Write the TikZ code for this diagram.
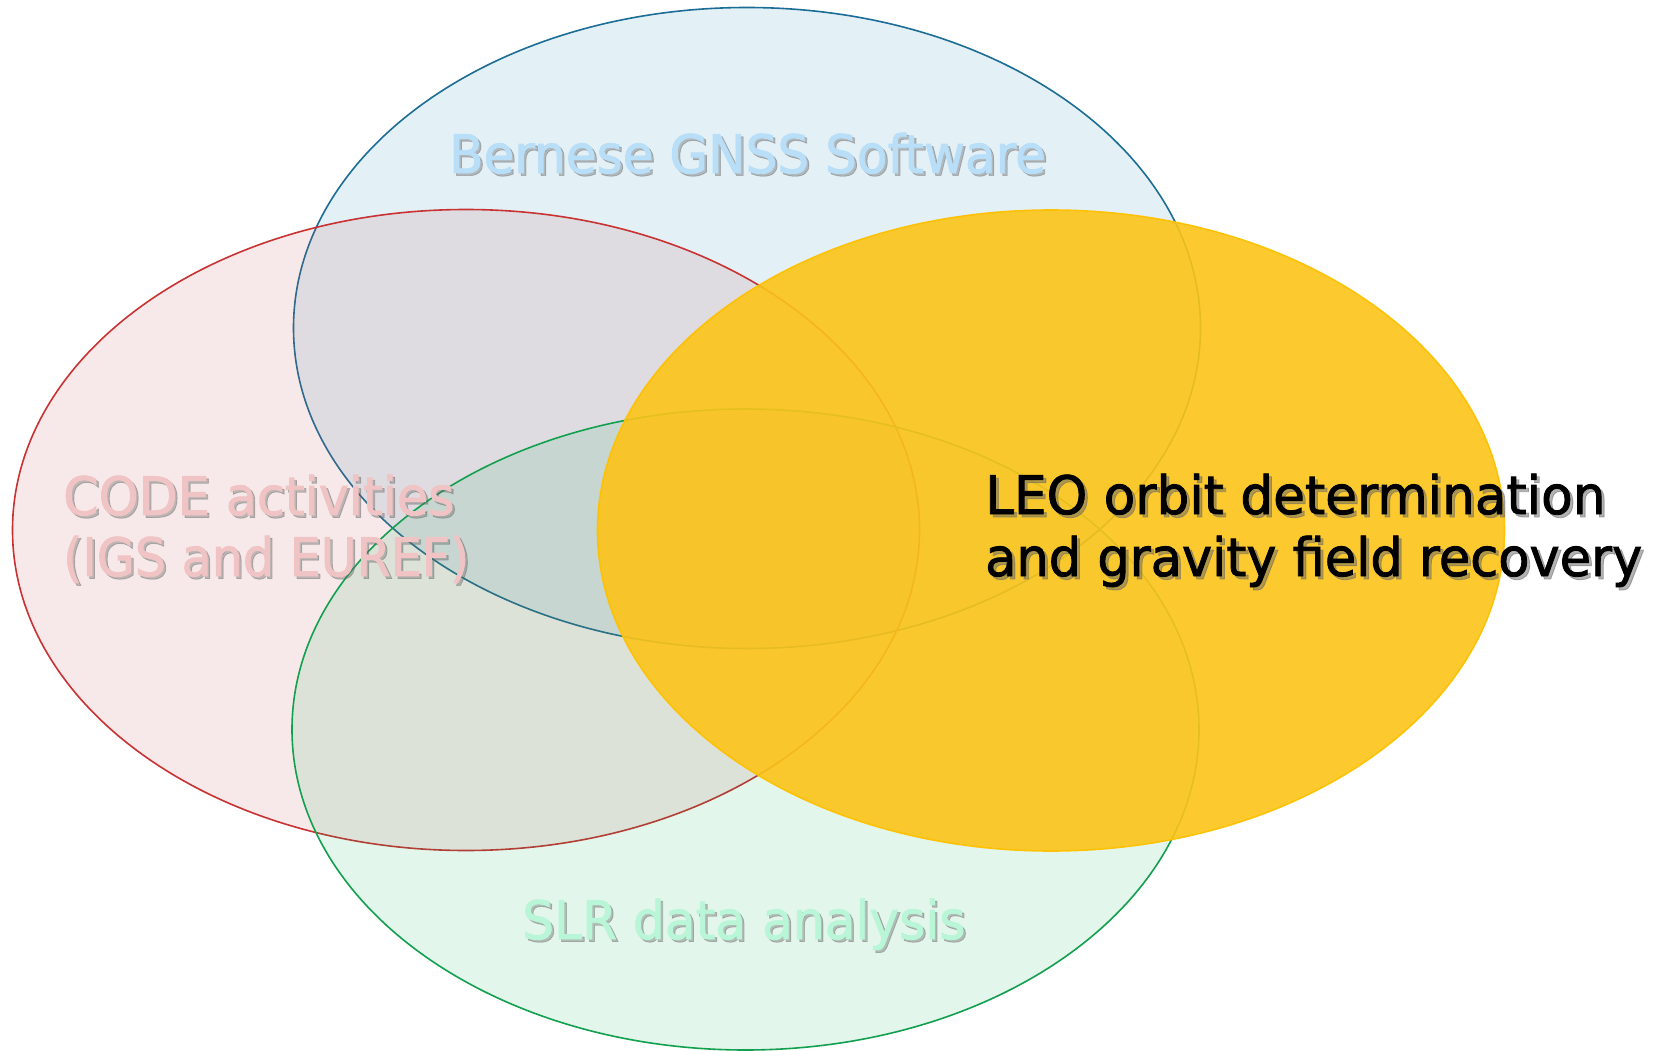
\documentclass[tikz,border=0pt]{standalone}
\usepackage{graphicx}
\usepackage{fontspec}
\newfontfamily\lblfont[FakeStretch=0.97,FakeBold=1.6]{DejaVu Sans}
\newcommand\hsc[2]{\scalebox{#1}[1]{#2}}
\definecolor{bstroke}{HTML}{1B6D96}
\definecolor{bfill}{RGB}{60,150,190}
\definecolor{rstroke}{HTML}{C83232}
\definecolor{rfill}{RGB}{192,80,77}
\definecolor{gstroke}{HTML}{12A04F}
\definecolor{gfill}{RGB}{0,170,80}
\definecolor{ostroke}{HTML}{FFC000}
\definecolor{ofill}{RGB}{252,196,24}
\definecolor{btext}{HTML}{B8DEF8}
\definecolor{rtext}{HTML}{F0C4C4}
\definecolor{gtext}{HTML}{B9F6D8}
\tikzset{
  venn/.style={line width=1.6pt},
  lbl/.style={font=\lblfont\fontsize{53}{63}\selectfont, inner sep=0pt, anchor=base west},
  shadowtxt/.style={lbl, text=black!60, opacity=0.4},
}
\begin{document}
\begin{tikzpicture}[x=1pt,y=-1pt]
\useasboundingbox (0,0) rectangle (1658,1051);
% ellipses
\draw[venn, draw=bstroke, fill=bfill, fill opacity=0.14] (747,328) ellipse [x radius=453.5pt, y radius=320.5pt];
\draw[venn, draw=rstroke, fill=rfill, fill opacity=0.125] (466,530) ellipse [x radius=453.5pt, y radius=320.5pt];
\draw[venn, draw=gstroke, fill=gfill, fill opacity=0.11] (745.5,729.5) ellipse [x radius=453.5pt, y radius=320.5pt];
\draw[venn, draw=ostroke, fill=ofill, fill opacity=0.9, draw opacity=0.95] (1051,530.5) ellipse [x radius=453.5pt, y radius=320.5pt];
% labels with shadows
\node[shadowtxt] (bsh) at (451.5,175.5) {\hsc{0.974}{Bernese GNSS Software}};
\node[lbl, text=btext] (bern) at (449,173) {\hsc{0.974}{Bernese GNSS Software}};
\node[shadowtxt] (c1sh) at (65.5,517.5) {\hsc{0.987}{CODE activities}};
\node[lbl, text=rtext] (code1) at (63,515) {\hsc{0.987}{CODE activities}};
\node[shadowtxt] (c2sh) at (65.5,578.5) {\hsc{0.955}{(IGS and EUREF)}};
\node[lbl, text=rtext] (code2) at (63,576) {\hsc{0.955}{(IGS and EUREF)}};
\node[shadowtxt] (ssh) at (524.5,941.5) {\hsc{0.977}{SLR data analysis}};
\node[lbl, text=gtext] (slr) at (522,939) {\hsc{0.977}{SLR data analysis}};
\node[shadowtxt, opacity=0.5] (l1sh) at (988,517) {\hsc{1.005}{LEO orbit determination}};
\node[lbl, text=black] (leo1) at (985,514) {\hsc{1.005}{LEO orbit determination}};
\node[shadowtxt, opacity=0.5] (l2sh) at (988,579) {\hsc{0.992}{and gravity field recovery}};
\node[lbl, text=black] (leo2) at (985,576) {\hsc{0.992}{and gravity field recovery}};
\end{tikzpicture}
\end{document}
